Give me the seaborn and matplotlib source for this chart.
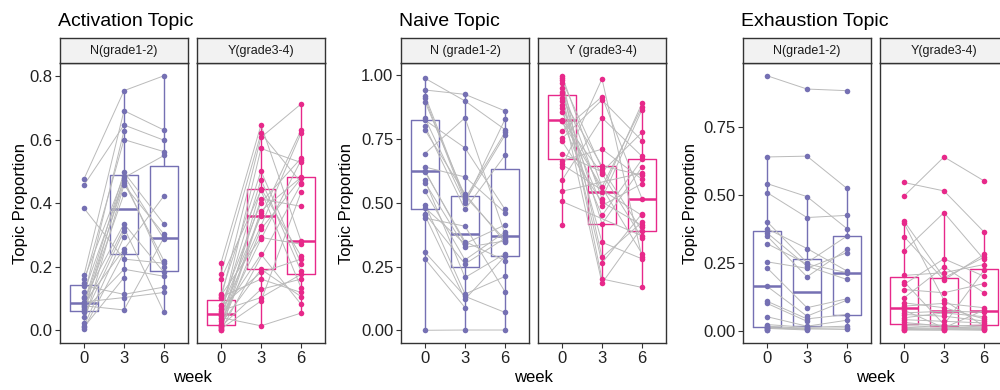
"""
Paired topic proportions over weeks 0/3/6, split by grade group.
Saves the figure to out.png
"""

import numpy as np
import pandas as pd
import matplotlib
matplotlib.use("Agg")
import matplotlib.pyplot as plt
import seaborn as sns

# ── Data: one entry per subject, None = sample missing at that week ──
weeks = ["0", "3", "6"]

act_N_w0 = [0.476, 0.457, 0.384, 0.173, 0.161, 0.150, 0.140, 0.119, 0.106, 0.100, 0.089, 0.085,
            0.085, 0.080, 0.077, 0.072, 0.068, 0.062, 0.056, 0.043, 0.024, 0.014, 0.010, 0.005]
act_N_w3 = [0.754, 0.646, 0.224, 0.691, 0.486, 0.600, 0.113, 0.474, 0.628, 0.335, 0.103, 0.497,
            0.255, 0.465, 0.064, 0.429, 0.323, 0.192, 0.480, 0.313, 0.457, 0.294, 0.166, 0.245]
act_N_w6 = [0.801, 0.598, 0.211, 0.630, 0.287, 0.562, 0.136, 0.200, None, 0.182, 0.119, 0.334,
            0.423, 0.218, 0.292, None, 0.056, 0.170, 0.550, None, 0.302, None, None, None]

act_Y_w0 = [0.212, 0.178, 0.161, 0.113, 0.110, 0.105, 0.100, 0.079, 0.075, 0.068, 0.062, 0.056, 0.052,
            0.049, 0.045, 0.040, 0.035, 0.028, 0.020, 0.015, 0.012, 0.010, 0.008, 0.005, 0.002, 0.000]
act_Y_w3 = [0.646, 0.620, 0.440, 0.501, 0.292, 0.161, 0.607, 0.402, 0.182, 0.360, 0.103, 0.474, 0.329,
            0.239, 0.572, 0.014, 0.413, 0.287, 0.192, 0.376, 0.129, 0.446, 0.318, 0.092, 0.370, None]
act_Y_w6 = [0.281, 0.465, 0.134, 0.210, 0.271, 0.119, 0.712, 0.541, 0.224, 0.630, 0.176, 0.187, 0.620,
            0.082, 0.528, 0.054, 0.390, 0.535, 0.106, 0.481, 0.161, 0.234, 0.478, 0.434, None, 0.460]

nai_N_w0 = [0.988, 0.942, 0.920, 0.909, 0.896, 0.831, 0.824, 0.800, 0.785, 0.693, 0.640, 0.625,
            0.621, 0.588, 0.579, 0.545, 0.493, 0.480, 0.457, 0.450, 0.440, 0.306, 0.280, 0.000]
nai_N_w3 = [0.899, 0.925, 0.516, 0.505, 0.526, 0.499, 0.715, 0.474, 0.535, 0.833, 0.601, 0.340,
            0.348, 0.207, 0.325, 0.276, 0.142, 0.339, 0.260, 0.122, 0.408, 0.133, 0.089, 0.001]
nai_N_w6 = [0.787, 0.860, 0.776, 0.765, 0.355, 0.827, 0.474, 0.686, 0.345, 0.378, 0.461, 0.413,
            0.273, 0.300, 0.350, 0.385, 0.211, None, 0.361, 0.290, 0.151, 0.070, None, 0.001]

nai_Y_w0 = [0.998, 0.990, 0.980, 0.970, 0.950, 0.935, 0.925, 0.910, 0.900, 0.883, 0.873, 0.857, 0.826,
            0.822, 0.820, 0.781, 0.752, 0.741, 0.693, 0.665, 0.650, 0.640, 0.588, 0.545, 0.505, 0.413]
nai_Y_w3 = [0.562, 0.286, 0.634, 0.201, 0.516, 0.417, 0.264, 0.644, 0.345, 0.185, 0.542, 0.489, 0.614,
            0.450, None, 0.916, 0.903, 0.503, 0.621, 0.710, None, 0.986, 0.833, None, None, None]
nai_Y_w6 = [0.875, 0.424, 0.390, 0.168, 0.865, 0.640, 0.457, 0.608, 0.280, 0.404, 0.890, 0.575, 0.362,
            0.670, 0.300, 0.516, 0.743, 0.411, 0.776, 0.592, 0.450, 0.286, 0.682, 0.617, 0.370, None]

exh_N_w0 = [0.938, 0.639, 0.541, 0.508, 0.401, 0.375, 0.360, 0.348, 0.320, 0.253, 0.231, 0.163,
            0.108, 0.100, 0.051, 0.022, 0.016, 0.012, 0.010, 0.008, 0.006, 0.003, 0.001]
exh_N_w3 = [0.889, 0.642, 0.493, 0.416, 0.250, 0.302, 0.237, 0.198, 0.245, 0.229, 0.084, 0.053,
            0.043, 0.034, 0.016, 0.012, 0.008, 0.006, 0.004, 0.002, None, None, None]
exh_N_w6 = [0.883, 0.523, 0.375, 0.424, 0.348, 0.219, 0.188, 0.299, 0.213, 0.287, 0.117, 0.112,
            0.059, None, 0.038, 0.016, 0.010, 0.004, None, None, None, None, None]

exh_Y_w0 = [0.545, 0.495, 0.403, 0.395, 0.346, 0.293, 0.203, 0.180, 0.170, 0.151, 0.120, 0.102, 0.090,
            0.075, 0.065, 0.059, 0.047, 0.040, 0.030, 0.022, 0.018, 0.012, 0.008, 0.004, 0.002, 0.001]
exh_Y_w3 = [0.514, 0.639, 0.194, 0.112, 0.186, 0.434, 0.213, 0.022, 0.264, 0.139, 0.235, 0.084, 0.100,
            0.010, 0.071, 0.053, 0.065, 0.034, 0.016, 0.020, 0.012, 0.007, 0.005, 0.003, 0.001, None]
exh_Y_w6 = [0.363, 0.551, 0.270, 0.016, 0.280, 0.262, 0.243, 0.222, 0.200, 0.173, 0.139, 0.043, 0.084,
            0.075, 0.068, 0.035, 0.051, 0.028, 0.020, 0.013, 0.010, 0.007, 0.004, 0.001, None, None]

titles = ["Activation Topic", "Naive Topic", "Exhaustion Topic"]
strip_labels = [["N(grade1-2)", "Y(grade3-4)"],
                ["N (grade1-2)", "Y (grade3-4)"],
                ["N(grade1-2)", "Y(grade3-4)"]]
yticks = [[0.0, 0.2, 0.4, 0.6, 0.8],
          [0.0, 0.25, 0.5, 0.75, 1.0],
          [0.0, 0.25, 0.5, 0.75]]
ytick_fmt = ["{:.1f}", "{:.2f}", "{:.2f}"]

topics = [
    [(act_N_w0, act_N_w3, act_N_w6), (act_Y_w0, act_Y_w3, act_Y_w6)],
    [(nai_N_w0, nai_N_w3, nai_N_w6), (nai_Y_w0, nai_Y_w3, nai_Y_w6)],
    [(exh_N_w0, exh_N_w3, exh_N_w6), (exh_Y_w0, exh_Y_w3, exh_Y_w6)],
]
group_colors = ["#7570B3", "#E7298A"]

# ── Style ──
sns.set_style("white")
plt.rcParams["font.family"] = ["Liberation Sans", "DejaVu Sans"]
EDGE = "#333333"
LINE_GREY = "#BABABA"

W, H = 1000, 390
fig = plt.figure(figsize=(W / 100, H / 100), dpi=100)
fig.patch.set_facecolor("white")

panel_left = [60, 401, 743]      # pixel x of left facet in each panel
ylab_offset = [39, 54, 52]       # distance of the y title from the facet edge
facet_w, facet_gap = 128, 9
plot_top, plot_bot, strip_top = 63, 343, 38


def to_long(series):
    rows = []
    for subj, vals in enumerate(zip(*series)):
        for pos, (wk, v) in enumerate(zip(weeks, vals)):
            if v is not None:
                rows.append({"subject": subj, "week": wk, "pos": pos, "value": v})
    return pd.DataFrame(rows)


for t, (title, groups) in enumerate(zip(titles, topics)):
    all_vals = [v for g in groups for s in g for v in s if v is not None]
    lo, hi = min(all_vals), max(all_vals)
    pad = 0.05 * (hi - lo)
    ylim = (lo - pad, hi + pad)

    for g, series in enumerate(groups):
        x0 = panel_left[t] + g * (facet_w + facet_gap)
        ax = fig.add_axes([x0 / W, (H - plot_bot) / H, facet_w / W, (plot_bot - plot_top) / H])
        sax = fig.add_axes([x0 / W, (H - plot_top) / H, facet_w / W, (plot_top - strip_top) / H])
        color = group_colors[g]
        df = to_long(series)

        sns.boxplot(data=df, x="week", y="value", order=weeks, color=color, fill=False,
                    width=0.7, linewidth=1.0, showfliers=False, showcaps=False,
                    medianprops={"linewidth": 1.8}, ax=ax)
        sns.lineplot(data=df, x="pos", y="value", units="subject", estimator=None,
                     color=LINE_GREY, linewidth=0.7, ax=ax, zorder=3)
        sns.stripplot(data=df, x="week", y="value", order=weeks, jitter=False, color=color,
                      size=4, linewidth=0, ax=ax, zorder=4)

        ax.set_xlim(-0.6, 2.6)
        ax.set_ylim(ylim)
        ax.set_xticks([0, 1, 2])
        ax.set_xticklabels(weeks)
        ax.set_yticks(yticks[t])
        ax.set_yticklabels([ytick_fmt[t].format(v) for v in yticks[t]])
        ax.set_xlabel("")
        ax.set_ylabel("")
        ax.grid(False)
        ax.tick_params(direction="out", length=3.5, width=0.8, color=EDGE,
                       labelsize=12, labelcolor="#222222", pad=2)
        ax.tick_params(axis="x", bottom=True)
        ax.tick_params(axis="y", left=(g == 0), labelleft=(g == 0))
        for sp in ax.spines.values():
            sp.set_color(EDGE)
            sp.set_linewidth(1.0)

        sax.set_facecolor("#F2F2F2")
        sax.set_xticks([])
        sax.set_yticks([])
        for sp in sax.spines.values():
            sp.set_color(EDGE)
            sp.set_linewidth(1.0)
        sax.text(0.5, 0.48, strip_labels[t][g], ha="center", va="center",
                 fontsize=9, color="#1A1A1A", transform=sax.transAxes)

    left = panel_left[t]
    fig.text((left - 2) / W, (H - 26) / H, title, ha="left", va="baseline",
             fontsize=14, color="black")
    fig.text((left - ylab_offset[t]) / W, (H - (plot_top + plot_bot) / 2) / H, "Topic Proportion",
             rotation=90, ha="center", va="center", fontsize=12, color="black")
    fig.text((left + facet_w + facet_gap / 2) / W, (H - 377) / H, "week",
             ha="center", va="center", fontsize=12, color="black")

plt.savefig("out.png", dpi=100, facecolor=fig.get_facecolor())
plt.close()
